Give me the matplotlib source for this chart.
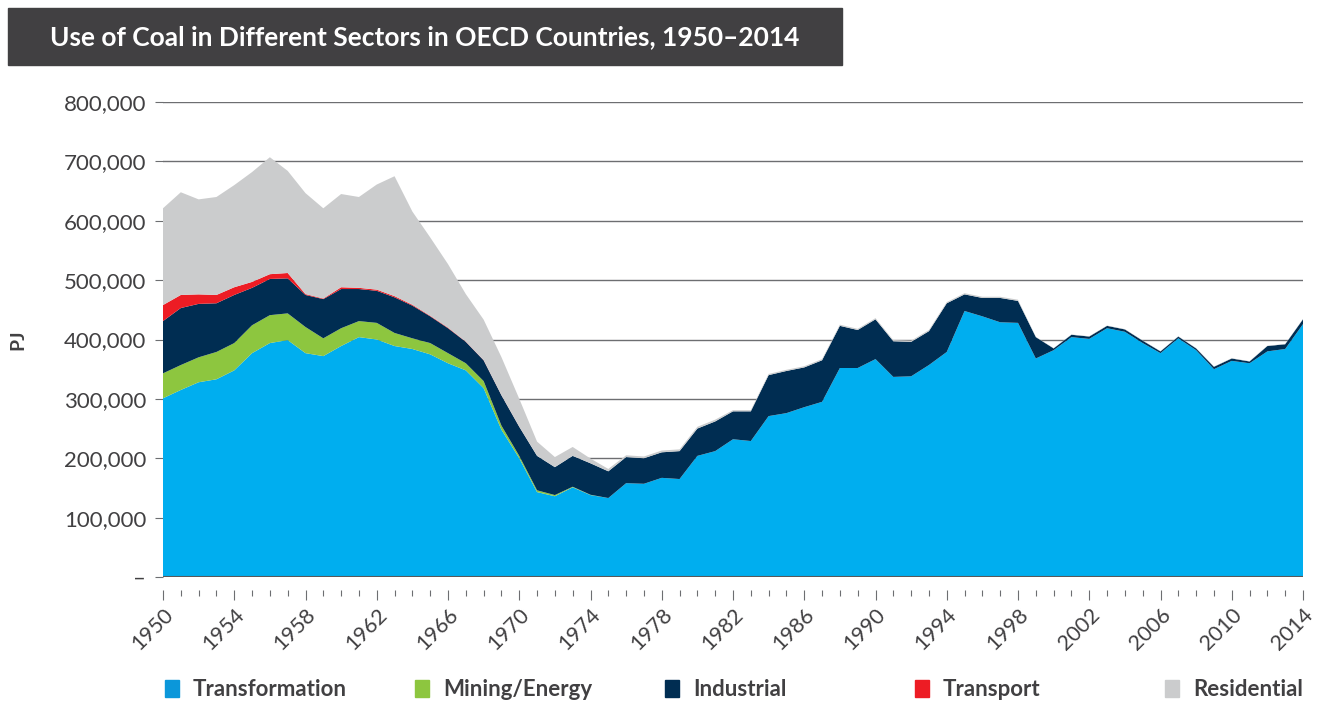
import numpy as np
import matplotlib
matplotlib.use("Agg")
from matplotlib import pyplot as plt
from matplotlib.patches import Rectangle
from matplotlib.ticker import FuncFormatter, MultipleLocator, FixedLocator

# Coal use per sector, thousand PJ (1950-2014)
years = np.arange(1950, 2015)

transformation = [
    301, 315, 328, 333, 348, 377, 394, 399, 377, 372,
    389, 404, 400, 389, 384, 375, 360, 348, 318, 248,
    200, 143, 136, 151, 138, 133, 158, 157, 167, 165,
    204, 212, 232, 229, 271, 276, 286, 295, 352, 352,
    367, 337, 338, 357, 379, 448, 439, 429, 428, 368,
    382, 404, 401, 419, 413, 394, 377, 402, 382, 350,
    364, 360, 380, 384, 426]
mining_energy = [
    42, 42, 42, 46, 46, 47, 47, 45, 44, 30,
    30, 27, 28, 22, 18, 19, 17, 12, 12, 7,
    4, 3, 2, 1, 0.5, 0, 0, 0, 0, 0,
    0, 0, 0, 0, 0, 0, 0, 0, 0, 0,
    0, 0, 0, 0, 0, 0, 0, 0, 0, 0,
    0, 0, 0, 0, 0, 0, 0, 0, 0, 0,
    0, 0, 0, 0, 0]
industrial = [
    88, 96, 90, 82, 81, 63, 61, 59, 54, 66,
    66, 54, 54, 60, 55, 45, 42, 36, 35, 51,
    49, 58, 47, 52, 53, 45, 44, 43, 43, 47,
    46, 50, 47, 50, 69, 71, 67, 70, 71, 64,
    67, 60, 58, 57, 82, 28, 31, 41, 37, 36,
    3, 4, 4, 4, 4, 4, 3, 3, 3, 4,
    4, 3, 9, 8, 8]
transport = [
    27, 22, 16, 14, 13, 10, 8, 9, 1.5, 1,
    3, 2, 2, 2, 1.5, 1, 1, 0.5, 0.5, 0.3,
    0.2, 0, 0, 0, 0, 0, 0, 0, 0, 0,
    0, 0, 0, 0, 0, 0, 0, 0, 0, 0,
    0, 0, 0, 0, 0, 0, 0, 0, 0, 0,
    0, 0, 0, 0, 0, 0, 0, 0, 0, 0,
    0, 0, 0, 0, 0]
residential = [
    163, 173, 160, 165, 172, 185, 197, 172, 170, 152,
    157, 153, 177, 202, 157, 132, 107, 80, 68, 64,
    47, 24, 17, 15, 8, 4, 3, 3, 3, 3,
    3, 3, 2, 2, 2, 2, 2, 2, 2, 2,
    2, 2, 2, 2, 2, 2, 2, 2, 2, 0.5,
    0.5, 0.5, 0.5, 0.5, 0.5, 0.5, 0.5, 0.5, 0.5, 0.5,
    0.5, 0.5, 0.5, 0.5, 0.5]

labels = ["Transformation", "Mining/Energy", "Industrial", "Transport", "Residential"]
colors = ["#00aeef", "#8dc63f", "#002d52", "#ed1c24", "#cbcccd"]
legend_colors = ["#0b97da", "#8dc63f", "#002d52", "#ed1c24", "#cbcccd"]
year_ticks = list(range(1950, 2015, 4))

TEXT = "#414042"
GRID = "#6d6e71"

plt.rcParams["font.family"] = ["Lato", "DejaVu Sans"]

W, H = 1317, 702
fig = plt.figure(figsize=(W / 100, H / 100), dpi=100)
ax = fig.add_axes([163 / W, 1 - 577 / H, 1140 / W, 475 / H])

series = [np.array(s) * 1000 for s in
          (transformation, mining_energy, industrial, transport, residential)]
ax.stackplot(years, *series, colors=colors, linewidth=0, labels=labels)

ax.set_xlim(1950, 2014)
ax.set_ylim(0, 800000)
ax.set_axisbelow(True)
ax.yaxis.grid(True, color=GRID, lw=1)
ax.axhline(0, color="#58595b", lw=1.5, zorder=5)

for s in ("top", "right", "left"):
    ax.spines[s].set_visible(False)
ax.spines["bottom"].set_position(("outward", 9))
ax.spines["bottom"].set_color("none")

ax.yaxis.set_major_locator(MultipleLocator(100000))
ax.yaxis.set_major_formatter(
    FuncFormatter(lambda v, p: "–" if v == 0 else f"{int(v):,}"))
ax.tick_params(axis="y", length=6, color=GRID, pad=6,
               labelsize=16, labelcolor=TEXT)

ax.xaxis.set_major_locator(FixedLocator(year_ticks))
ax.xaxis.set_minor_locator(MultipleLocator(1))
ax.tick_params(axis="x", which="major", length=7, width=0.8, color=GRID,
               labelsize=15.5, labelcolor=TEXT, pad=4)
ax.tick_params(axis="x", which="minor", length=4, width=0.8, color=GRID)
for lab in ax.get_xticklabels():
    lab.set_rotation(45)
    lab.set_ha("right")
    lab.set_rotation_mode("anchor")

ax.set_ylabel("PJ", fontsize=14, fontweight="bold", color=TEXT)
ax.yaxis.set_label_coords(-0.12, 0.5)

# title box
fig.patches.append(Rectangle((8 / W, 1 - 65 / H), 834 / W, 57 / H,
                             transform=fig.transFigure, color="#414042"))
fig.text(425 / W, 1 - 37 / H,
         "Use of Coal in Different Sectors in OECD Countries, 1950–2014",
         color="white", fontsize=19, fontweight="bold",
         ha="center", va="center")

# legend row
for i, (lab, c) in enumerate(zip(labels, legend_colors)):
    x0 = 165 + i * 250
    fig.patches.append(Rectangle((x0 / W, 1 - 697 / H), 14 / W, 17 / H,
                                 transform=fig.transFigure, color=c))
    fig.text((x0 + 28) / W, 1 - 689 / H, lab, color=TEXT, fontsize=16,
             fontweight="bold", ha="left", va="center")

fig.savefig("out.png", dpi=100)
